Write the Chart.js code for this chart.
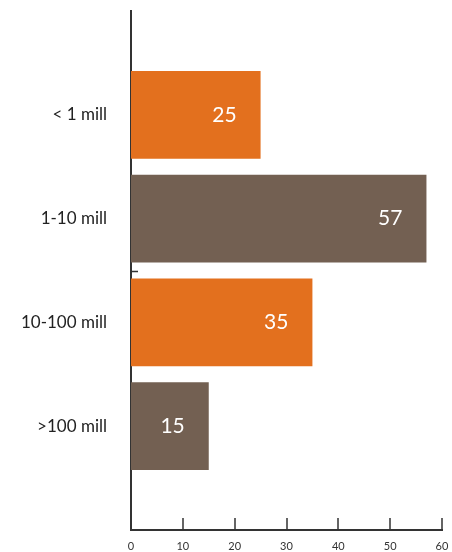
<!DOCTYPE html>
<html>
<head>
<meta charset="utf-8">
<script src="https://cdn.jsdelivr.net/npm/chart.js@4"></script>
<style>
  html, body { margin: 0; padding: 0; background: #fff; }
  #wrap { width: 452px; height: 552px; }
</style>
</head>
<body>
<div id="wrap"><canvas id="chart"></canvas></div>
<script>
// data
const categories = ["< 1 mill", "1-10 mill", "10-100 mill", ">100 mill"];
const shares = [25, 57, 35, 15];
const barColors = ["#E3701E", "#736052", "#E3701E", "#736052"];
const xTicks = [0, 10, 20, 30, 40, 50, 60];

// blank slot above and below so the axis runs past the bars
const labels = ["", ...categories, ""];
const values = [null, ...shares, null];
const colors = ["transparent", ...barColors, "transparent"];

const FONT = "Lato, 'Open Sans', sans-serif";

const barLabels = {
  id: "barLabels",
  afterDatasetsDraw(chart) {
    const ctx = chart.ctx;
    const meta = chart.getDatasetMeta(0);
    ctx.save();
    ctx.fillStyle = "#fff";
    ctx.font = "21px " + FONT;
    ctx.textAlign = "right";
    ctx.textBaseline = "middle";
    meta.data.forEach((bar, i) => {
      if (values[i] == null) return;
      ctx.fillText(String(values[i]), bar.x - 24, bar.y);
    });
    ctx.restore();
  }
};

// x ticks point up into the plot, plus the lone little tick halfway down the y axis
const axisTicks = {
  id: "axisTicks",
  afterDraw(chart) {
    const y = chart.scales.y, x = chart.scales.x;
    const ctx = chart.ctx;
    ctx.save();
    ctx.strokeStyle = "#333";
    ctx.lineWidth = 1.5;
    ctx.beginPath();
    xTicks.forEach(v => {
      if (v === 0) return;
      const px = Math.round(x.getPixelForValue(v));
      ctx.moveTo(px, x.top);
      ctx.lineTo(px, x.top - 12);
    });
    const py = Math.round(y.getPixelForValue(2.5)) + 0.5;
    ctx.moveTo(x.left, py);
    ctx.lineTo(x.left + 7, py);
    ctx.stroke();
    ctx.restore();
  }
};

// drop the extra room chart.js keeps for the end labels
const noEdgePad = s => {
  s.paddingTop = 0; s.paddingBottom = 0;
  s.paddingLeft = 0; s.paddingRight = 0;
};

new Chart(document.getElementById("chart"), {
  type: "bar",
  data: {
    labels,
    datasets: [{
      data: values,
      backgroundColor: colors,
      borderWidth: 0,
      categoryPercentage: 1,
      barPercentage: 0.846
    }]
  },
  options: {
    indexAxis: "y",
    responsive: true,
    maintainAspectRatio: false,
    animation: false,
    layout: { padding: { top: 11, right: 10, bottom: 0, left: 0 } },
    plugins: { legend: { display: false }, tooltip: { enabled: false } },
    scales: {
      x: {
        type: "linear",
        min: 0,
        max: 60,
        afterBuildTicks: s => { s.ticks = xTicks.map(v => ({ value: v })); },
        afterFit: s => { s.height = 22; noEdgePad(s); },
        grid: { display: false, drawTicks: false },
        border: { display: true, color: "#333", width: 2 },
        ticks: { color: "#333", font: { family: FONT, size: 11 }, padding: 10, maxRotation: 0 }
      },
      y: {
        offset: false,
        afterFit: s => { s.width = 131; noEdgePad(s); },
        grid: { display: false, drawTicks: false },
        border: { display: true, color: "#333", width: 2 },
        ticks: { color: "#222", font: { family: FONT, size: 17 }, padding: 24 }
      }
    }
  },
  plugins: [barLabels, axisTicks]
});
</script>
</body>
</html>
